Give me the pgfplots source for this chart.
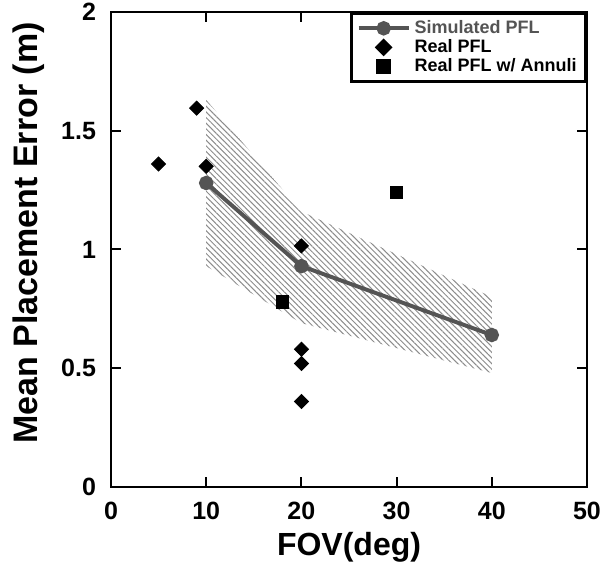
\documentclass[border=0pt]{standalone}
\usepackage{fontspec}
\setmainfont{Liberation Sans}
\usepackage{pgfplots}
\pgfplotsset{compat=1.18}
\usetikzlibrary{patterns.meta,calc}
\definecolor{simgray}{gray}{0.33}
\definecolor{bandgray}{gray}{0.55}

\begin{document}
\begin{tikzpicture}
\begin{axis}[
    scale only axis,
    width=238pt,
    height=237.5pt,
    xmin=0, xmax=50,
    ymin=0, ymax=2,
    xtick={0,10,20,30,40,50},
    ytick={0,0.5,1,1.5,2},
    tick align=inside,
    major tick length=5pt,
    axis line style={line width=1.2pt},
    every tick/.style={black,line width=1pt},
    /pgf/number format/assume math mode=true,
    ticklabel style={font=\fontsize{12.5}{14}\selectfont\bfseries},
    xticklabel style={yshift=-4pt},
    yticklabel style={xshift=-4pt},
    xlabel={FOV(deg)},
    ylabel={Mean Placement Error (m)},
    xlabel style={font=\fontsize{16}{18}\selectfont\bfseries, yshift=0.5pt},
    ylabel style={font=\fontsize{17}{19}\selectfont\bfseries,
        at={(axis description cs:-0.173,0.535)}, anchor=center},
    legend style={at={(1,1)},anchor=north east,draw=black,line width=1.3pt,
        font=\fontsize{9}{10}\selectfont\bfseries,row sep=-2.5pt,
        inner xsep=2.5pt,inner ysep=1.5pt},
    legend cell align=left,
    legend image code/.code={\draw[mark repeat=2,mark phase=2,#1]
        plot coordinates {(0pt,0pt) (12.5pt,0pt) (25pt,0pt)};},
]
% uncertainty band of the simulation
\addplot[draw=none, pattern={Lines[angle=-45,distance=2pt,line width=0.5pt]},
    pattern color=bandgray, forget plot]
    coordinates {(10,0.93) (20,0.69) (40,0.48) (40,0.80) (20,1.16) (10,1.63)} -- cycle;

\addplot[simgray, line width=2pt, mark=*, mark size=2.6pt]
    coordinates {(10,1.28) (20,0.93) (40,0.64)};
\addlegendentry{\textcolor{simgray}{Simulated PFL}}

\addplot[only marks, mark=square*, mark options={rotate=45}, mark size=2.5pt, black]
    coordinates {(5,1.36) (9,1.595) (10,1.35) (20,1.015) (20,0.58) (20,0.52) (20,0.36)};
\addlegendentry{Real PFL}

\addplot[only marks, mark=square*, mark size=3.1pt, black]
    coordinates {(18,0.78) (30,1.24)};
\addlegendentry{Real PFL w/ Annuli}
\end{axis}
\pgfresetboundingbox
\path[use as bounding box] ($(current axis.south west)+(-55.5pt,-37.5pt)$)
    rectangle ($(current axis.north east)+(7pt,6pt)$);
\end{tikzpicture}
\end{document}
